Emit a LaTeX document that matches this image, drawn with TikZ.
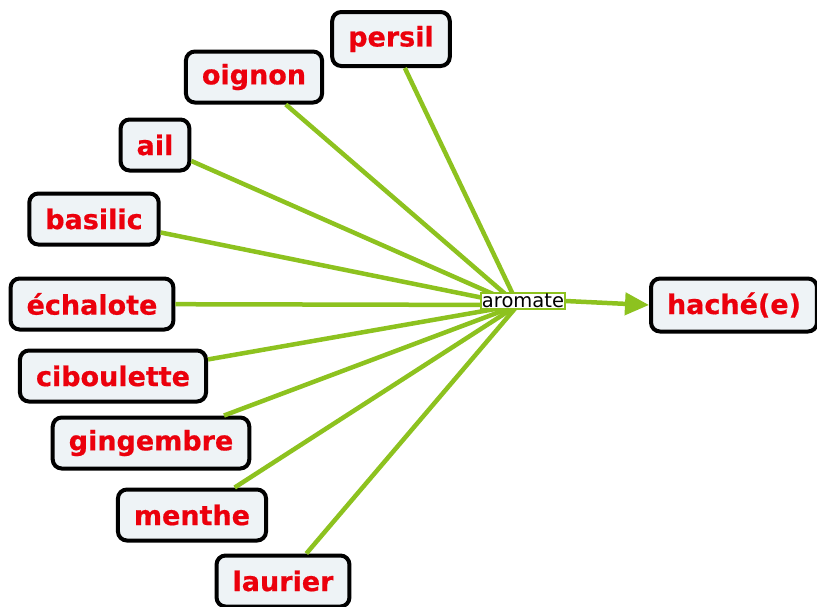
\documentclass[tikz,border=0pt]{standalone}
\usepackage{fontspec}
\setmainfont{DejaVu Sans}
\newfontfamily\conceptfont[FakeBold=0.6]{DejaVu Sans Bold}
\usetikzlibrary{arrows.meta}
\definecolor{linkgreen}{RGB}{141,194,31}
\definecolor{boxfill}{RGB}{238,243,246}
\definecolor{txtred}{RGB}{235,0,12}
\tikzset{
  concept/.style={draw=black, line width=4pt, rounded corners=9pt, fill=boxfill,
    text=txtred, font=\fontsize{27}{32}\conceptfont, inner xsep=16pt,
    minimum height=51pt, anchor=center},
  link/.style={draw=linkgreen, line width=4.5pt},
  linklabel/.style={draw=linkgreen, line width=1.2pt, fill=white, text=black,
    font=\fontsize{19.5}{21}\selectfont, inner xsep=1pt, inner ysep=1pt}
}
\begin{document}
\begin{tikzpicture}[x=1pt,y=-1pt]
\useasboundingbox (0,0) rectangle (817,606);
\node[concept, minimum height=54pt] (persil) at (391,39) {persil};
\node[concept] (oignon) at (254,77) {oignon};
\node[concept] (ail) at (155,145) {ail};
\node[concept] (basilic) at (94,219) {basilic};
\node[concept] (echalote) at (92,304) {échalote};
\node[concept] (ciboulette) at (113,376) {ciboulette};
\node[concept] (gingembre) at (151,443) {gingembre};
\node[concept] (menthe) at (192,515) {menthe};
\node[concept] (laurier) at (283,581) {laurier};
\node[concept, minimum height=53pt] (hache) at (734,305) {haché(e)};
\coordinate (j) at (518,305);
\foreach \n in {persil,oignon,ail,basilic,echalote,ciboulette,gingembre,menthe,laurier}
  \draw[link] (\n) -- (j);
\node[linklabel] (aromate) at (523,301) {aromate};
\draw[link, -{Triangle[length=24pt,width=22pt]}] (aromate.east) -- (hache.west);
\end{tikzpicture}
\end{document}
